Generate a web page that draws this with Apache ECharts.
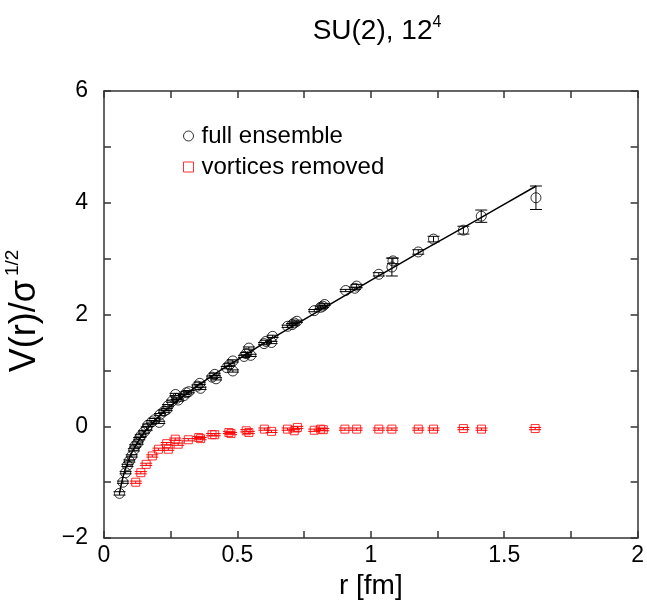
<!DOCTYPE html>
<html><head><meta charset="utf-8">
<script src="https://cdn.jsdelivr.net/npm/echarts@6/dist/echarts.min.js"></script>
<style>html,body{margin:0;padding:0;background:#fff}#c{width:647px;height:605px}</style>
</head><body><div id="c"></div>
<script>
// full ensemble
const fullR = [0.058,0.071,0.081,0.088,0.095,0.104,0.112,0.117,0.126,0.132,0.138,0.150,0.160,0.165,0.179,0.190,0.207,0.210,0.225,0.235,0.240,0.255,0.268,0.272,0.278,0.300,0.309,0.318,0.350,0.359,0.362,0.405,0.415,0.420,0.460,0.470,0.483,0.483,0.525,0.533,0.543,0.550,0.600,0.607,0.628,0.632,0.688,0.705,0.713,0.723,0.788,0.812,0.820,0.827,0.906,0.940,0.947,1.030,1.079,1.083,1.178,1.235,1.347,1.414,1.619];
const fullV = [-1.20,-1.00,-0.83,-0.70,-0.62,-0.53,-0.42,-0.35,-0.30,-0.22,-0.17,-0.10,-0.04,0.02,0.08,0.12,0.07,0.21,0.27,0.30,0.37,0.45,0.57,0.50,0.47,0.55,0.60,0.62,0.72,0.77,0.68,0.88,0.93,0.85,1.05,1.10,0.99,1.17,1.25,1.30,1.40,1.27,1.48,1.52,1.50,1.61,1.79,1.82,1.85,1.88,2.07,2.13,2.15,2.18,2.43,2.47,2.51,2.72,2.85,2.96,3.12,3.35,3.51,3.76,4.09];
const fullErr = [0.03,0.02,0.02,0.02,0.02,0.02,0.02,0.02,0.02,0.02,0.02,0.02,0.03,0.02,0.02,0.02,0.02,0.02,0.02,0.02,0.02,0.02,0.02,0.02,0.02,0.02,0.02,0.02,0.02,0.02,0.02,0.02,0.02,0.02,0.02,0.02,0.02,0.02,0.02,0.02,0.02,0.02,0.02,0.02,0.02,0.02,0.02,0.02,0.02,0.02,0.02,0.02,0.02,0.02,0.02,0.02,0.03,0.03,0.16,0.05,0.04,0.05,0.07,0.11,0.21];
// vortices removed
const remR = [0.119,0.138,0.158,0.181,0.204,0.235,0.241,0.267,0.278,0.316,0.355,0.362,0.405,0.415,0.468,0.476,0.533,0.543,0.601,0.628,0.688,0.713,0.725,0.788,0.812,0.822,0.903,0.947,1.030,1.079,1.178,1.235,1.347,1.415,1.616];
const remV = [-1.00,-0.83,-0.68,-0.53,-0.41,-0.31,-0.41,-0.23,-0.32,-0.24,-0.20,-0.22,-0.15,-0.15,-0.11,-0.13,-0.08,-0.11,-0.05,-0.09,-0.05,-0.08,-0.02,-0.07,-0.05,-0.06,-0.05,-0.05,-0.05,-0.05,-0.05,-0.05,-0.04,-0.05,-0.04];
const remErr = [0.02,0.02,0.02,0.02,0.02,0.02,0.02,0.02,0.02,0.02,0.02,0.02,0.02,0.02,0.02,0.02,0.02,0.02,0.02,0.02,0.02,0.02,0.02,0.02,0.02,0.02,0.02,0.02,0.02,0.02,0.02,0.02,0.02,0.02,0.02];
// fit curve
const fitR = [0.058,0.07,0.08,0.09,0.10,0.12,0.14,0.16,0.19,0.22,0.26,0.30,0.36,0.42,0.50,0.60,0.70,0.85,1.00,1.20,1.40,1.62];
const fitV = [-1.20,-0.93,-0.765,-0.63,-0.51,-0.33,-0.18,-0.06,0.10,0.24,0.40,0.55,0.755,0.95,1.19,1.49,1.77,2.19,2.61,3.16,3.70,4.30];
const xTicks = [0,0.5,1,1.5,2];
const yTicks = [-2,0,2,4,6];

const FONT = '"Liberation Sans", Arial, Helvetica, sans-serif';
const zip2 = (a,b) => a.map((v,i)=>[v,b[i]]);
const zip3 = (a,b,c) => a.map((v,i)=>[v,b[i],c[i]]);

function errRender(color){
  return function(params, api){
    const x = api.value(0), y = api.value(1), e = api.value(2);
    const hi = api.coord([x, y+e]);
    const lo = api.coord([x, y-e]);
    const w = 6;
    const st = {stroke: color, lineWidth: 1};
    return {type:'group', children:[
      {type:'line', shape:{x1:hi[0],y1:hi[1],x2:lo[0],y2:lo[1]}, style:st},
      {type:'line', shape:{x1:hi[0]-w,y1:hi[1],x2:hi[0]+w,y2:hi[1]}, style:st},
      {type:'line', shape:{x1:lo[0]-w,y1:lo[1],x2:lo[0]+w,y2:lo[1]}, style:st}
    ]};
  };
}

const chart = echarts.init(document.getElementById('c'), null, {renderer:'canvas'});
const axisLineStyle = {color:'#333', width:1.5};
const fmt = v => String(v).replace('-', '\u2212');
chart.setOption({
  animation:false,
  backgroundColor:'#fff',
  title:{
    text:'SU(2), 12{sup|4}', left:372, top:10, textAlign:'center',
    textStyle:{fontFamily:FONT, fontSize:28, fontWeight:'normal', color:'#000',
      rich:{sup:{fontFamily:FONT, fontSize:16, verticalAlign:'top', padding:[0,0,16,0], color:'#000'}}}
  },
  graphic:[{
    type:'text', x:48, y:311, rotation:Math.PI/2,
    style:{text:'V(r)/\u03c3{sup|1/2}', fontFamily:FONT, fontSize:36, fill:'#000',
      align:'center', verticalAlign:'bottom',
      rich:{sup:{fontFamily:FONT, fontSize:19, verticalAlign:'top', padding:[0,0,26,4], fill:'#000'}}}
  }],
  legend:{
    orient:'vertical', left:178, top:119, itemGap:7, itemWidth:10, itemHeight:10,
    textStyle:{fontFamily:FONT, fontSize:24, color:'#000', padding:[0,0,0,3]},
    data:[
      {name:'full ensemble', icon:'circle', itemStyle:{color:'#fff', borderColor:'#000', borderWidth:1}},
      {name:'vortices removed', icon:'rect', itemStyle:{color:'#fff', borderColor:'#f00', borderWidth:1}}
    ]
  },
  grid:{left:104, top:91, right:5, bottom:66, containLabel:false},
  xAxis:[{
    type:'value', min:0, max:2, interval:0.5,
    name:'r [fm]', nameLocation:'middle', nameGap:28,
    nameTextStyle:{fontFamily:FONT, fontSize:28, color:'#000'},
    axisLine:{show:true, onZero:false, lineStyle:axisLineStyle},
    axisTick:{inside:true, length:7, lineStyle:axisLineStyle},
    minorTick:{show:true, splitNumber:2, length:7, lineStyle:{color:'#333', width:1.5}},
    axisLabel:{fontFamily:FONT, fontSize:23, color:'#000', margin:6, formatter:fmt},
    splitLine:{show:false}
  },{
    type:'value', min:0, max:2, interval:0.5, position:'top',
    axisLine:{show:true, onZero:false, lineStyle:axisLineStyle},
    axisTick:{inside:true, length:7, lineStyle:axisLineStyle},
    minorTick:{show:true, splitNumber:2, length:7, lineStyle:{color:'#333', width:1.5}},
    axisLabel:{show:false}, splitLine:{show:false}
  }],
  yAxis:[{
    type:'value', min:-2, max:6, interval:2,
    axisLine:{show:true, onZero:false, lineStyle:axisLineStyle},
    axisTick:{inside:true, length:7, lineStyle:axisLineStyle},
    minorTick:{show:true, splitNumber:2, length:7, lineStyle:{color:'#333', width:1.5}},
    axisLabel:{fontFamily:FONT, fontSize:23, color:'#000', margin:16, formatter:fmt},
    splitLine:{show:false}
  },{
    type:'value', min:-2, max:6, interval:2, position:'right',
    axisLine:{show:true, onZero:false, lineStyle:axisLineStyle},
    axisTick:{inside:true, length:7, lineStyle:axisLineStyle},
    minorTick:{show:true, splitNumber:2, length:7, lineStyle:{color:'#333', width:1.5}},
    axisLabel:{show:false}, splitLine:{show:false}
  }],
  series:[
    {type:'line', name:'fit', data:zip2(fitR, fitV), smooth:0.4, showSymbol:false, symbol:'none',
     lineStyle:{color:'#000', width:1.5}, z:3, silent:true},
    {type:'custom', name:'full err', renderItem:errRender('#000'), data:zip3(fullR, fullV, fullErr), z:4, silent:true},
    {type:'custom', name:'rem err', renderItem:errRender('#f00'), data:zip3(remR, remV, remErr), z:4, silent:true},
    {type:'scatter', name:'full ensemble', data:zip2(fullR, fullV), symbol:'circle', symbolSize:10,
     itemStyle:{color:'rgba(0,0,0,0)', borderColor:'#000', borderWidth:1}, z:5},
    {type:'scatter', name:'vortices removed', data:zip2(remR, remV), symbol:'rect', symbolSize:8,
     itemStyle:{color:'rgba(0,0,0,0)', borderColor:'#f00', borderWidth:1}, z:5}
  ]
});
</script></body></html>
